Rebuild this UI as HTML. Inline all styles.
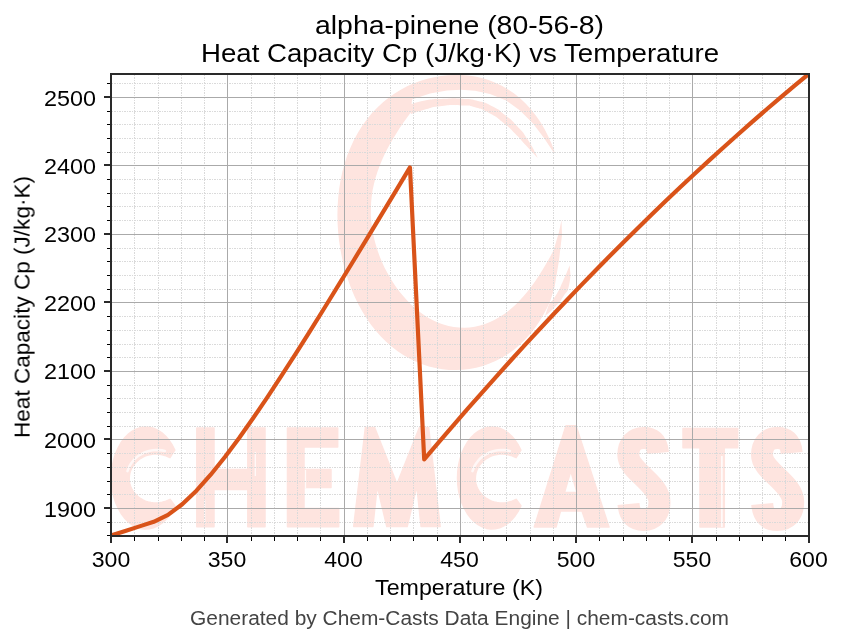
<!DOCTYPE html>
<html><head><meta charset="utf-8"><title>alpha-pinene Heat Capacity Cp vs Temperature</title>
<style>
html,body{margin:0;padding:0;background:#fff;}
body{width:843px;height:644px;overflow:hidden;font-family:"Liberation Sans",sans-serif;}
svg{display:block;}
text{font-family:"Liberation Sans",sans-serif;fill:#000;}
.mj{stroke:#aaaaaa;stroke-width:1;}
.mn{stroke:#dadada;stroke-width:1;stroke-dasharray:1 1 2 1;}
.tk{stroke:#2a2a2a;stroke-width:2;}
.tm{stroke:#000;stroke-width:1;}
.sp{stroke:#2a2a2a;stroke-width:2;fill:none;}
.ft{fill:#444444;}
</style></head>
<body>
<svg width="843" height="644" viewBox="0 0 843 644">
<rect x="0" y="0" width="843" height="644" fill="#ffffff"/>
<svg x="111" y="74" width="698" height="462" viewBox="111 74 698 462" overflow="hidden">
<g fill="#fee4df">
<path d="M554.5,151.6 L551.6,143.8 L548.2,136.3 L544.5,129.0 L540.4,122.0 L535.8,115.4 L530.9,109.3 L525.6,103.5 L520.1,98.3 L514.2,93.6 L508.1,89.4 L501.8,85.8 L495.3,82.7 L488.6,80.1 L481.9,78.1 L475.1,76.6 L468.3,75.5 L461.4,75.0 L454.6,74.9 L447.7,75.2 L440.9,76.0 L434.1,77.2 L427.4,78.8 L420.7,80.8 L414.1,83.2 L407.6,86.1 L401.2,89.5 L395.0,93.3 L388.9,97.5 L383.0,102.3 L377.4,107.5 L372.0,113.1 L367.0,119.3 L362.2,125.8 L357.9,132.8 L353.9,140.1 L350.4,147.7 L347.2,155.6 L344.6,163.8 L342.3,172.1 L340.5,180.6 L339.1,189.2 L338.2,197.8 L337.6,206.5 L337.4,215.2 L337.6,223.8 L338.2,232.4 L339.1,240.9 L340.4,249.4 L342.0,257.7 L343.9,265.8 L346.2,273.9 L348.7,281.8 L351.6,289.5 L354.8,297.0 L358.3,304.3 L362.2,311.3 L366.3,318.0 L370.8,324.4 L375.6,330.5 L380.6,336.3 L385.9,341.6 L391.5,346.5 L397.3,351.0 L403.3,355.0 L409.5,358.6 L415.8,361.6 L422.3,364.3 L428.9,366.4 L435.5,368.0 L442.3,369.2 L449.1,369.9 L455.9,370.1 L462.7,369.8 L469.5,369.0 L476.2,367.7 L482.9,365.9 L489.5,363.6 L496.0,360.8 L502.3,357.5 L508.4,353.7 L514.3,349.4 L520.0,344.6 L525.4,339.3 L530.5,333.6 L535.3,327.5 L539.7,320.9 L543.8,314.1 L547.5,307.0 L550.8,299.6 L554.6,287.0 L558.9,260.9 L562.0,235.0 L561.5,220.0 L559.0,232.0 L553.7,250.1 L551.0,255.2 L548.2,260.2 L545.4,265.0 L542.6,269.8 L539.6,274.4 L536.7,278.9 L533.6,283.4 L530.4,287.7 L527.1,292.0 L523.7,296.1 L520.1,300.1 L516.3,303.9 L512.4,307.6 L508.3,311.0 L504.0,314.2 L499.5,317.1 L494.8,319.7 L490.0,322.0 L485.1,324.0 L480.0,325.5 L474.8,326.7 L469.6,327.4 L464.3,327.7 L459.0,327.5 L453.8,327.0 L448.5,325.9 L443.4,324.5 L438.3,322.7 L433.4,320.5 L428.6,317.9 L424.0,315.0 L419.5,311.7 L415.2,308.2 L411.1,304.5 L407.2,300.5 L403.4,296.3 L399.8,292.0 L396.4,287.4 L393.2,282.7 L390.2,277.8 L387.3,272.8 L384.6,267.7 L382.1,262.3 L379.9,256.9 L377.8,251.3 L376.0,245.6 L374.4,239.7 L373.1,233.7 L372.0,227.6 L371.3,221.5 L370.9,215.3 L370.9,209.0 L371.1,202.8 L371.7,196.5 L372.6,190.3 L373.9,184.2 L375.4,178.2 L377.3,172.2 L379.4,166.4 L381.7,160.7 L384.3,155.0 L387.0,149.5 L390.0,144.1 L393.1,138.7 L396.3,133.4 L399.7,128.1 L403.3,122.8 L407.1,117.4 L411.1,112.1 L412.0,99.5 L430.0,93.5 L447.0,90.5 L461.0,89.8 L475.0,90.8 L490.0,94.0 L506.2,100.5 L520.0,110.5 L533.0,123.5 L544.0,138.0 L553.5,152.3 Z"/>
<path d="M409.0,105.0C414.3,103.5 413.0,102.6 425.0,100.5C437.0,98.4 433.0,99.4 445.0,98.8C457.0,98.2 450.0,98.1 461.0,98.8C472.0,99.5 467.4,98.4 478.0,101.0C488.6,103.6 483.7,101.8 492.7,106.5C501.7,111.2 496.9,108.5 505.0,115.0C513.1,121.5 509.3,117.7 517.0,126.0C524.7,134.3 521.1,129.4 528.0,140.0C534.9,150.6 534.5,151.9 537.8,157.9C534.2,154.1 534.6,154.6 527.0,146.5C519.4,138.4 523.0,141.5 515.0,133.5C507.0,125.5 511.3,129.2 503.0,122.5C494.7,115.8 499.3,118.6 490.0,113.5C480.7,108.4 484.7,110.0 475.0,107.3C465.3,104.6 472.0,105.9 461.0,105.5C450.0,105.1 454.0,104.7 442.0,106.0C430.0,107.3 435.3,106.8 425.0,109.5C414.7,112.2 415.7,112.5 411.0,114.0C410.3,111.0 409.7,108.0 409.0,105.0Z"/>
<path d="M549.0,304.0C551.6,300.7 552.0,301.7 556.7,294.0C561.4,286.3 558.6,290.6 563.0,281.0C567.4,271.4 567.5,270.5 569.8,265.2C569.6,271.5 571.6,273.4 569.3,284.0C567.0,294.6 568.1,289.0 563.0,297.0C557.9,305.0 560.0,301.7 554.0,308.0C548.0,314.3 548.0,313.3 545.0,316.0C546.3,312.0 547.7,308.0 549.0,304.0Z"/>
<path d="M174.8,450.2 L172.2,445.0 L169.1,440.3 L165.7,436.2 L161.9,432.8 L157.8,430.2 L153.6,428.3 L149.2,427.2 L144.8,427.0 L140.4,427.6 L136.1,429.1 L132.0,431.4 L128.0,434.4 L124.4,438.1 L121.1,442.5 L118.3,447.5 L115.8,453.0 L113.9,458.9 L112.5,465.1 L111.7,471.5 L111.4,478.0 L111.7,484.5 L112.5,490.9 L113.9,497.1 L115.8,503.0 L118.3,508.5 L121.1,513.5 L124.4,517.9 L128.0,521.6 L132.0,524.6 L136.1,526.9 L140.4,528.4 L144.8,529.0 L149.2,528.8 L153.6,527.7 L157.8,525.8 L161.9,523.2 L165.7,519.8 L169.1,515.7 L172.2,511.0 L174.8,505.8 L170.0,499.3 L167.6,500.5 L164.9,501.6 L162.2,502.3 L159.4,502.8 L156.6,503.0 L153.8,502.9 L150.9,502.6 L148.2,502.0 L145.5,501.1 L143.0,499.9 L140.5,498.5 L138.3,496.9 L136.3,495.1 L134.5,493.1 L132.9,490.9 L131.6,488.6 L130.6,486.2 L129.8,483.7 L129.4,481.1 L129.2,478.5 L129.4,475.9 L129.8,473.3 L130.6,470.8 L131.6,468.4 L132.9,466.1 L134.5,463.9 L136.3,461.9 L138.3,460.1 L140.5,458.5 L143.0,457.1 L145.5,455.9 L148.2,455.0 L150.9,454.4 L153.8,454.1 L156.6,454.0 L159.4,454.2 L162.2,454.7 L164.9,455.4 L167.6,456.5 L170.0,457.7 Z" stroke="#fee4df" stroke-width="1.5" stroke-linejoin="round"/>
<path d="M196.8,428 H214 V469.5 H247.8 V428 H265 V526.8 H247.8 V489.5 H214 V526.8 H196.8 Z" fill-rule="evenodd" stroke="#fee4df" stroke-width="1.5" stroke-linejoin="round"/>
<path d="M287.5,428 H337.7 V447 H304 V469.5 H331 V487.6 H304 V508.5 H338.7 V526.8 H287.5 Z" fill-rule="evenodd" stroke="#fee4df" stroke-width="1.5" stroke-linejoin="round"/>
<path d="M353.7,526.5 L365.4,427.4 L374.5,427.4 L397,484 L419.5,427.4 L428.6,427.4 L440.2,526.5 L421.1,526.5 L416.8,486 L407.2,526.5 L386.8,526.5 L377.2,486 L372.9,526.5 Z" fill-rule="evenodd" stroke="#fee4df" stroke-width="1.5" stroke-linejoin="round"/>
<path d="M520.9,450.2 L518.3,445.0 L515.2,440.3 L511.8,436.2 L508.0,432.8 L503.9,430.2 L499.7,428.3 L495.3,427.2 L490.9,427.0 L486.5,427.6 L482.2,429.1 L478.1,431.4 L474.1,434.4 L470.5,438.1 L467.2,442.5 L464.4,447.5 L461.9,453.0 L460.0,458.9 L458.6,465.1 L457.8,471.5 L457.5,478.0 L457.8,484.5 L458.6,490.9 L460.0,497.1 L461.9,503.0 L464.4,508.5 L467.2,513.5 L470.5,517.9 L474.1,521.6 L478.1,524.6 L482.2,526.9 L486.5,528.4 L490.9,529.0 L495.3,528.8 L499.7,527.7 L503.9,525.8 L508.0,523.2 L511.8,519.8 L515.2,515.7 L518.3,511.0 L520.9,505.8 L516.1,499.3 L513.7,500.5 L511.0,501.6 L508.3,502.3 L505.5,502.8 L502.7,503.0 L499.9,502.9 L497.0,502.6 L494.3,502.0 L491.6,501.1 L489.1,499.9 L486.6,498.5 L484.4,496.9 L482.4,495.1 L480.6,493.1 L479.0,490.9 L477.7,488.6 L476.7,486.2 L475.9,483.7 L475.5,481.1 L475.3,478.5 L475.5,475.9 L475.9,473.3 L476.7,470.8 L477.7,468.4 L479.0,466.1 L480.6,463.9 L482.4,461.9 L484.4,460.1 L486.6,458.5 L489.1,457.1 L491.6,455.9 L494.3,455.0 L497.0,454.4 L499.9,454.1 L502.7,454.0 L505.5,454.2 L508.3,454.7 L511.0,455.4 L513.7,456.5 L516.1,457.7 Z" stroke="#fee4df" stroke-width="1.5" stroke-linejoin="round"/>
<path d="M534.3,527 L566,425.7 L576,425.7 L609,527 L587.5,527 L582,511 L560.5,511 L556,527 Z M570.8,471 L564.5,492.5 L577,492.5 Z" fill-rule="evenodd" stroke="#fee4df" stroke-width="1.5" stroke-linejoin="round"/>
<path d="M658.0,453 C657.0,441 651.0,438 644.0,438 C634.0,438 628.3,444 628.3,455 C628.3,471 659.5,483 659.5,502 C659.5,514 653.0,520 643.5,520 C635.0,520 629.5,516 628.5,504" fill="none" stroke="#fee4df" stroke-width="22"/>
<path d="M683,428.4 H737.7 V447.8 H724.3 V527 H700 V447.8 H683 Z" fill-rule="evenodd" stroke="#fee4df" stroke-width="1.5" stroke-linejoin="round"/>
<path d="M791.7,453 C790.7,441 784.7,438 777.7,438 C767.7,438 762.0,444 762.0,455 C762.0,471 793.2,483 793.2,502 C793.2,514 786.7,520 777.2,520 C768.7,520 763.2,516 762.2,504" fill="none" stroke="#fee4df" stroke-width="22"/>
<path d="M127.5,471.1 L128.5,468.5 L129.6,465.9 L131.1,463.5 L132.8,461.2 L134.7,459.0 L136.9,457.1 L139.2,455.3 L141.8,453.8 L144.4,452.5 L147.2,451.5 L150.1,450.7 L153.0,450.2 L156.0,450.0 L159.0,450.1 L162.0,450.4 L164.9,451.0" fill="none" stroke="#fff" stroke-opacity="0.7" stroke-width="2.6" stroke-linecap="round"/>
<path d="M472.5,471.1 L473.5,468.5 L474.6,465.9 L476.1,463.5 L477.8,461.2 L479.7,459.0 L481.9,457.1 L484.2,455.3 L486.8,453.8 L489.4,452.5 L492.2,451.5 L495.1,450.7 L498.0,450.2 L501.0,450.0 L504.0,450.1 L507.0,450.4 L509.9,451.0" fill="none" stroke="#fff" stroke-opacity="0.7" stroke-width="2.6" stroke-linecap="round"/>
<path d="M721.9,456 V527" fill="none" stroke="#fff" stroke-width="1.4"/>
<path d="M255.3,452 V476 M204.7,500 V524 M305.5,470 V488" fill="none" stroke="#fff" stroke-opacity="0.8" stroke-width="1.3"/>
</g>
</svg>
<g shape-rendering="crispEdges">
<line x1="134.5" y1="75" x2="134.5" y2="535" class="mn"/>
<line x1="158.5" y1="75" x2="158.5" y2="535" class="mn"/>
<line x1="181.5" y1="75" x2="181.5" y2="535" class="mn"/>
<line x1="204.5" y1="75" x2="204.5" y2="535" class="mn"/>
<line x1="251.5" y1="75" x2="251.5" y2="535" class="mn"/>
<line x1="274.5" y1="75" x2="274.5" y2="535" class="mn"/>
<line x1="297.5" y1="75" x2="297.5" y2="535" class="mn"/>
<line x1="320.5" y1="75" x2="320.5" y2="535" class="mn"/>
<line x1="367.5" y1="75" x2="367.5" y2="535" class="mn"/>
<line x1="390.5" y1="75" x2="390.5" y2="535" class="mn"/>
<line x1="413.5" y1="75" x2="413.5" y2="535" class="mn"/>
<line x1="437.5" y1="75" x2="437.5" y2="535" class="mn"/>
<line x1="483.5" y1="75" x2="483.5" y2="535" class="mn"/>
<line x1="506.5" y1="75" x2="506.5" y2="535" class="mn"/>
<line x1="530.5" y1="75" x2="530.5" y2="535" class="mn"/>
<line x1="553.5" y1="75" x2="553.5" y2="535" class="mn"/>
<line x1="599.5" y1="75" x2="599.5" y2="535" class="mn"/>
<line x1="623.5" y1="75" x2="623.5" y2="535" class="mn"/>
<line x1="646.5" y1="75" x2="646.5" y2="535" class="mn"/>
<line x1="669.5" y1="75" x2="669.5" y2="535" class="mn"/>
<line x1="716.5" y1="75" x2="716.5" y2="535" class="mn"/>
<line x1="739.5" y1="75" x2="739.5" y2="535" class="mn"/>
<line x1="762.5" y1="75" x2="762.5" y2="535" class="mn"/>
<line x1="785.5" y1="75" x2="785.5" y2="535" class="mn"/>
<line x1="112" y1="522.5" x2="808" y2="522.5" class="mn"/>
<line x1="112" y1="494.5" x2="808" y2="494.5" class="mn"/>
<line x1="112" y1="481.5" x2="808" y2="481.5" class="mn"/>
<line x1="112" y1="467.5" x2="808" y2="467.5" class="mn"/>
<line x1="112" y1="453.5" x2="808" y2="453.5" class="mn"/>
<line x1="112" y1="426.5" x2="808" y2="426.5" class="mn"/>
<line x1="112" y1="412.5" x2="808" y2="412.5" class="mn"/>
<line x1="112" y1="398.5" x2="808" y2="398.5" class="mn"/>
<line x1="112" y1="385.5" x2="808" y2="385.5" class="mn"/>
<line x1="112" y1="357.5" x2="808" y2="357.5" class="mn"/>
<line x1="112" y1="344.5" x2="808" y2="344.5" class="mn"/>
<line x1="112" y1="330.5" x2="808" y2="330.5" class="mn"/>
<line x1="112" y1="316.5" x2="808" y2="316.5" class="mn"/>
<line x1="112" y1="289.5" x2="808" y2="289.5" class="mn"/>
<line x1="112" y1="275.5" x2="808" y2="275.5" class="mn"/>
<line x1="112" y1="261.5" x2="808" y2="261.5" class="mn"/>
<line x1="112" y1="248.5" x2="808" y2="248.5" class="mn"/>
<line x1="112" y1="220.5" x2="808" y2="220.5" class="mn"/>
<line x1="112" y1="206.5" x2="808" y2="206.5" class="mn"/>
<line x1="112" y1="193.5" x2="808" y2="193.5" class="mn"/>
<line x1="112" y1="179.5" x2="808" y2="179.5" class="mn"/>
<line x1="112" y1="152.5" x2="808" y2="152.5" class="mn"/>
<line x1="112" y1="138.5" x2="808" y2="138.5" class="mn"/>
<line x1="112" y1="124.5" x2="808" y2="124.5" class="mn"/>
<line x1="112" y1="111.5" x2="808" y2="111.5" class="mn"/>
<line x1="112" y1="83.5" x2="808" y2="83.5" class="mn"/>
<line x1="227.5" y1="75" x2="227.5" y2="535" class="mj"/>
<line x1="344.5" y1="75" x2="344.5" y2="535" class="mj"/>
<line x1="460.5" y1="75" x2="460.5" y2="535" class="mj"/>
<line x1="576.5" y1="75" x2="576.5" y2="535" class="mj"/>
<line x1="692.5" y1="75" x2="692.5" y2="535" class="mj"/>
<line x1="112" y1="508.5" x2="808" y2="508.5" class="mj"/>
<line x1="112" y1="439.5" x2="808" y2="439.5" class="mj"/>
<line x1="112" y1="371.5" x2="808" y2="371.5" class="mj"/>
<line x1="112" y1="302.5" x2="808" y2="302.5" class="mj"/>
<line x1="112" y1="234.5" x2="808" y2="234.5" class="mj"/>
<line x1="112" y1="165.5" x2="808" y2="165.5" class="mj"/>
<line x1="112" y1="97.5" x2="808" y2="97.5" class="mj"/>
</g>
<svg x="111" y="74" width="698" height="462" viewBox="111 74 698 462" overflow="hidden">
<polyline points="111.04,535.54 125.27,530.95 139.51,526.36 153.74,521.77 167.98,514.92 182.21,504.26 196.45,490.64 210.68,474.72 224.92,457.02 239.15,437.95 253.39,417.80 267.62,396.82 281.86,375.19 296.09,353.07 310.33,330.56 324.56,307.74 338.80,284.70 353.03,261.47 367.26,238.10 381.50,214.62 395.73,191.06 409.97,167.44 424.20,459.35 438.44,442.61 452.67,426.06 466.91,409.70 481.14,393.53 495.38,377.55 509.61,361.76 523.85,346.16 538.08,330.75 552.32,315.53 566.55,300.50 580.78,285.66 595.02,271.01 609.25,256.55 623.49,242.28 637.72,228.20 651.96,214.31 666.19,200.61 680.43,187.10 694.66,173.78 708.90,160.65 723.13,147.71 737.37,134.96 751.60,122.40 765.84,110.03 780.07,97.85 794.31,85.86 808.54,74.06" fill="none" stroke="#D95319" stroke-width="4.17" stroke-linejoin="round" stroke-linecap="square"/>
</svg>
<g shape-rendering="crispEdges">
<line x1="111" y1="537" x2="111" y2="543" class="tk"/>
<line x1="227" y1="537" x2="227" y2="543" class="tk"/>
<line x1="344" y1="537" x2="344" y2="543" class="tk"/>
<line x1="460" y1="537" x2="460" y2="543" class="tk"/>
<line x1="576" y1="537" x2="576" y2="543" class="tk"/>
<line x1="692" y1="537" x2="692" y2="543" class="tk"/>
<line x1="809" y1="537" x2="809" y2="543" class="tk"/>
<line x1="134.5" y1="537" x2="134.5" y2="540.5" class="tm"/>
<line x1="158.5" y1="537" x2="158.5" y2="540.5" class="tm"/>
<line x1="181.5" y1="537" x2="181.5" y2="540.5" class="tm"/>
<line x1="204.5" y1="537" x2="204.5" y2="540.5" class="tm"/>
<line x1="251.5" y1="537" x2="251.5" y2="540.5" class="tm"/>
<line x1="274.5" y1="537" x2="274.5" y2="540.5" class="tm"/>
<line x1="297.5" y1="537" x2="297.5" y2="540.5" class="tm"/>
<line x1="320.5" y1="537" x2="320.5" y2="540.5" class="tm"/>
<line x1="367.5" y1="537" x2="367.5" y2="540.5" class="tm"/>
<line x1="390.5" y1="537" x2="390.5" y2="540.5" class="tm"/>
<line x1="413.5" y1="537" x2="413.5" y2="540.5" class="tm"/>
<line x1="437.5" y1="537" x2="437.5" y2="540.5" class="tm"/>
<line x1="483.5" y1="537" x2="483.5" y2="540.5" class="tm"/>
<line x1="506.5" y1="537" x2="506.5" y2="540.5" class="tm"/>
<line x1="530.5" y1="537" x2="530.5" y2="540.5" class="tm"/>
<line x1="553.5" y1="537" x2="553.5" y2="540.5" class="tm"/>
<line x1="599.5" y1="537" x2="599.5" y2="540.5" class="tm"/>
<line x1="623.5" y1="537" x2="623.5" y2="540.5" class="tm"/>
<line x1="646.5" y1="537" x2="646.5" y2="540.5" class="tm"/>
<line x1="669.5" y1="537" x2="669.5" y2="540.5" class="tm"/>
<line x1="716.5" y1="537" x2="716.5" y2="540.5" class="tm"/>
<line x1="739.5" y1="537" x2="739.5" y2="540.5" class="tm"/>
<line x1="762.5" y1="537" x2="762.5" y2="540.5" class="tm"/>
<line x1="785.5" y1="537" x2="785.5" y2="540.5" class="tm"/>
<line x1="104" y1="508" x2="110" y2="508" class="tk"/>
<line x1="104" y1="439" x2="110" y2="439" class="tk"/>
<line x1="104" y1="371" x2="110" y2="371" class="tk"/>
<line x1="104" y1="302" x2="110" y2="302" class="tk"/>
<line x1="104" y1="234" x2="110" y2="234" class="tk"/>
<line x1="104" y1="165" x2="110" y2="165" class="tk"/>
<line x1="104" y1="97" x2="110" y2="97" class="tk"/>
<line x1="106.5" y1="535.5" x2="110" y2="535.5" class="tm"/>
<line x1="106.5" y1="522.5" x2="110" y2="522.5" class="tm"/>
<line x1="106.5" y1="494.5" x2="110" y2="494.5" class="tm"/>
<line x1="106.5" y1="481.5" x2="110" y2="481.5" class="tm"/>
<line x1="106.5" y1="467.5" x2="110" y2="467.5" class="tm"/>
<line x1="106.5" y1="453.5" x2="110" y2="453.5" class="tm"/>
<line x1="106.5" y1="426.5" x2="110" y2="426.5" class="tm"/>
<line x1="106.5" y1="412.5" x2="110" y2="412.5" class="tm"/>
<line x1="106.5" y1="398.5" x2="110" y2="398.5" class="tm"/>
<line x1="106.5" y1="385.5" x2="110" y2="385.5" class="tm"/>
<line x1="106.5" y1="357.5" x2="110" y2="357.5" class="tm"/>
<line x1="106.5" y1="344.5" x2="110" y2="344.5" class="tm"/>
<line x1="106.5" y1="330.5" x2="110" y2="330.5" class="tm"/>
<line x1="106.5" y1="316.5" x2="110" y2="316.5" class="tm"/>
<line x1="106.5" y1="289.5" x2="110" y2="289.5" class="tm"/>
<line x1="106.5" y1="275.5" x2="110" y2="275.5" class="tm"/>
<line x1="106.5" y1="261.5" x2="110" y2="261.5" class="tm"/>
<line x1="106.5" y1="248.5" x2="110" y2="248.5" class="tm"/>
<line x1="106.5" y1="220.5" x2="110" y2="220.5" class="tm"/>
<line x1="106.5" y1="206.5" x2="110" y2="206.5" class="tm"/>
<line x1="106.5" y1="193.5" x2="110" y2="193.5" class="tm"/>
<line x1="106.5" y1="179.5" x2="110" y2="179.5" class="tm"/>
<line x1="106.5" y1="152.5" x2="110" y2="152.5" class="tm"/>
<line x1="106.5" y1="138.5" x2="110" y2="138.5" class="tm"/>
<line x1="106.5" y1="124.5" x2="110" y2="124.5" class="tm"/>
<line x1="106.5" y1="111.5" x2="110" y2="111.5" class="tm"/>
<line x1="106.5" y1="83.5" x2="110" y2="83.5" class="tm"/>
<line x1="111" y1="73" x2="111" y2="537" class="sp"/>
<line x1="809" y1="73" x2="809" y2="537" class="sp"/>
<line x1="110" y1="74" x2="810" y2="74" class="sp"/>
<line x1="110" y1="536" x2="810" y2="536" class="sp"/>
</g>
<g opacity="0.999">
<text x="459.5" y="34" font-size="25.8" text-anchor="middle" textLength="289" lengthAdjust="spacingAndGlyphs">alpha-pinene (80-56-8)</text>
<text x="460" y="62" font-size="25.8" text-anchor="middle" textLength="518" lengthAdjust="spacingAndGlyphs">Heat Capacity Cp (J/kg·K) vs Temperature</text>
<text x="459" y="594.7" font-size="21.5" text-anchor="middle" textLength="168" lengthAdjust="spacingAndGlyphs">Temperature (K)</text>
<text x="0" y="0" font-size="21.5" text-anchor="middle" textLength="262" lengthAdjust="spacingAndGlyphs" transform="translate(29.6,307) rotate(-90)">Heat Capacity Cp (J/kg·K)</text>
<text x="459.5" y="624.6" font-size="19.4" text-anchor="middle" textLength="539" lengthAdjust="spacingAndGlyphs" class="ft">Generated by Chem-Casts Data Engine | chem-casts.com</text>
<text x="111" y="566.8" font-size="21.8" text-anchor="middle" textLength="38.5" lengthAdjust="spacingAndGlyphs">300</text>
<text x="227" y="566.8" font-size="21.8" text-anchor="middle" textLength="38.5" lengthAdjust="spacingAndGlyphs">350</text>
<text x="343.5" y="566.8" font-size="21.8" text-anchor="middle" textLength="38.5" lengthAdjust="spacingAndGlyphs">400</text>
<text x="459.5" y="566.8" font-size="21.8" text-anchor="middle" textLength="38.5" lengthAdjust="spacingAndGlyphs">450</text>
<text x="576" y="566.8" font-size="21.8" text-anchor="middle" textLength="38.5" lengthAdjust="spacingAndGlyphs">500</text>
<text x="692" y="566.8" font-size="21.8" text-anchor="middle" textLength="38.5" lengthAdjust="spacingAndGlyphs">550</text>
<text x="808.5" y="566.8" font-size="21.8" text-anchor="middle" textLength="38.5" lengthAdjust="spacingAndGlyphs">600</text>
<text x="70" y="105.8" font-size="21.8" text-anchor="middle" textLength="52" lengthAdjust="spacingAndGlyphs">2500</text>
<text x="70" y="173.8" font-size="21.8" text-anchor="middle" textLength="52" lengthAdjust="spacingAndGlyphs">2400</text>
<text x="70" y="242.3" font-size="21.8" text-anchor="middle" textLength="52" lengthAdjust="spacingAndGlyphs">2300</text>
<text x="70" y="310.8" font-size="21.8" text-anchor="middle" textLength="52" lengthAdjust="spacingAndGlyphs">2200</text>
<text x="70" y="379.3" font-size="21.8" text-anchor="middle" textLength="52" lengthAdjust="spacingAndGlyphs">2100</text>
<text x="70" y="447.8" font-size="21.8" text-anchor="middle" textLength="52" lengthAdjust="spacingAndGlyphs">2000</text>
<text x="70" y="516.8" font-size="21.8" text-anchor="middle" textLength="52" lengthAdjust="spacingAndGlyphs">1900</text>
</g>
</svg>
</body></html>
